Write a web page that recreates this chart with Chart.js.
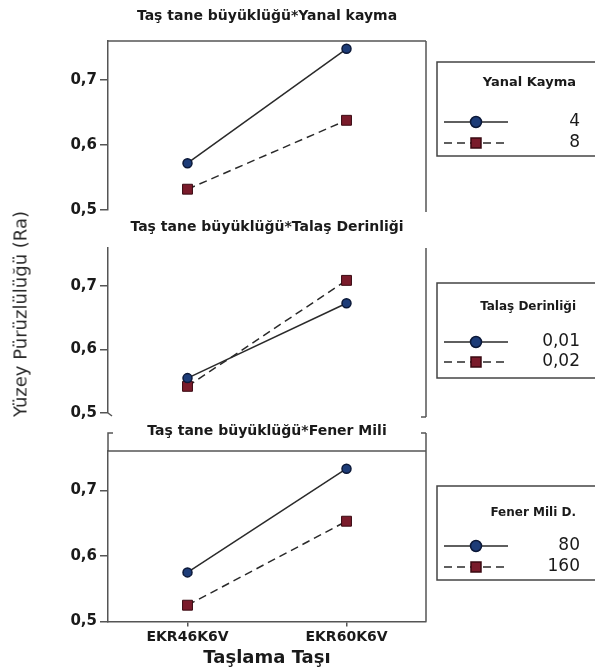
<!DOCTYPE html>
<html>
<head>
<meta charset="utf-8">
<script src="https://cdn.jsdelivr.net/npm/chart.js@4.4.0/dist/chart.umd.min.js"></script>
<style>
  body { margin: 0; background: #fff; }
  #wrap { position: relative; width: 595px; height: 671px; overflow: hidden; }
  .box { position: absolute; left: 0; width: 595px; }
  #ytitle {
    position: absolute; left: 20px; top: 314px;
    transform: translate(-50%, -50%) rotate(-90deg);
    white-space: nowrap; font: 18px "DejaVu Sans"; color: #2a2a2a;
  }
</style>
</head>
<body>
<div id="wrap">
  <div class="box" style="top:0px;height:222px"><canvas id="c1"></canvas></div>
  <div class="box" style="top:207px;height:218px"><canvas id="c2"></canvas></div>
  <div class="box" style="top:410px;height:261px"><canvas id="c3"></canvas></div>
  <div id="ytitle">Yüzey Pürüzlülüğü (Ra)</div>
</div>
<script>
// categories on the x axis
const categories = ['EKR46K6V', 'EKR60K6V'];

// Yanal kayma
const kaymaNames = ['4', '8'];
const kayma4 = [0.572, 0.748];
const kayma8 = [0.532, 0.638];

// Talaş derinliği
const derinlikNames = ['0,01', '0,02'];
const derinlik001 = [0.555, 0.673];
const derinlik002 = [0.542, 0.709];

// Fener mili
const fenerNames = ['80', '160'];
const fener80 = [0.575, 0.733];
const fener160 = [0.525, 0.653];

const yTicks = [0.5, 0.6, 0.7];

const axisColor = '#555';
const textColor = '#1a1a1a';
const lineColor = '#2a2a2a';

// frame lines around each panel (top / right / little hooks)
const framePlugin = {
  id: 'frame',
  afterDraw(chart, args, o) {
    const ctx = chart.ctx;
    const a = chart.chartArea;
    ctx.save();
    ctx.strokeStyle = axisColor;
    ctx.lineWidth = 1.5;
    ctx.beginPath();
    if (o.top) {
      ctx.moveTo(a.left, a.top);
      ctx.lineTo(a.right, a.top);
    }
    ctx.moveTo(a.right, a.top - o.stub);
    ctx.lineTo(a.right, a.bottom + o.tail);
    if (o.stub) {
      ctx.moveTo(a.left + 5, a.top - o.stub);
      ctx.lineTo(a.left, a.top - o.stub);
      ctx.lineTo(a.left, a.top);
      ctx.moveTo(a.right - 5, a.top - o.stub);
      ctx.lineTo(a.right, a.top - o.stub);
    }
    if (o.hook) {
      ctx.moveTo(a.left, a.bottom);
      ctx.lineTo(a.left + 4, a.bottom + 3);
      ctx.moveTo(a.right, a.bottom + o.tail);
      ctx.lineTo(a.right - 5, a.bottom + o.tail);
    }
    ctx.stroke();
    ctx.restore();
  }
};

// boxed legend on the right of each panel
const legendPlugin = {
  id: 'boxLegend',
  afterDraw(chart, args, o) {
    const ctx = chart.ctx;
    const x0 = chart.chartArea.right + 11;
    ctx.save();
    ctx.strokeStyle = '#444';
    ctx.lineWidth = 1.5;
    ctx.strokeRect(x0, o.top, 200, o.height);
    ctx.fillStyle = textColor;
    ctx.font = o.titleFont;
    ctx.textAlign = 'right';
    ctx.textBaseline = 'middle';
    ctx.fillText(o.title, x0 + 139, o.titleY);
    chart.data.datasets.forEach((ds, i) => {
      const y = o.itemY[i];
      ctx.strokeStyle = ds.borderColor;
      ctx.lineWidth = ds.borderWidth;
      ctx.setLineDash(ds.borderDash || []);
      ctx.beginPath();
      ctx.moveTo(x0 + 7, y);
      ctx.lineTo(x0 + 71, y);
      ctx.stroke();
      ctx.setLineDash([]);
      ctx.fillStyle = ds.pointBackgroundColor;
      ctx.strokeStyle = ds.pointBorderColor;
      ctx.lineWidth = 1.5;
      ctx.beginPath();
      if (ds.pointStyle === 'rect') {
        ctx.rect(x0 + 34, y - 5, 10, 10);
      } else {
        ctx.arc(x0 + 39, y, 5.5, 0, Math.PI * 2);
      }
      ctx.fill();
      ctx.stroke();
      ctx.fillStyle = textColor;
      ctx.font = '17px "DejaVu Sans"';
      ctx.fillText(ds.label, x0 + 143, y);
    });
    ctx.restore();
  }
};

function panel(id, title, names, first, second, cfg) {
  return new Chart(document.getElementById(id), {
    type: 'line',
    data: {
      labels: categories,
      datasets: [
        {
          label: names[0], data: first,
          borderColor: lineColor, borderWidth: 1.5,
          pointStyle: 'circle', pointRadius: 4.5,
          pointBackgroundColor: '#1d3c78', pointBorderColor: '#0b1838', pointBorderWidth: 1.5
        },
        {
          label: names[1], data: second,
          borderColor: lineColor, borderWidth: 1.5, borderDash: [8, 5],
          pointStyle: 'rect', pointRadius: 7,
          pointBackgroundColor: '#7a1b2b', pointBorderColor: '#3a0a12', pointBorderWidth: 1
        }
      ]
    },
    options: {
      responsive: true,
      maintainAspectRatio: false,
      animation: false,
      layout: { padding: { left: 0, right: 169, top: 0, bottom: cfg.bottom } },
      plugins: {
        legend: { display: false },
        tooltip: { enabled: false },
        title: {
          display: true, text: title, fullSize: false, color: textColor,
          font: { family: 'DejaVu Sans', size: 14, weight: 'bold' },
          padding: { top: cfg.titleTop, bottom: cfg.titleBottom }
        },
        frame: cfg.frame,
        boxLegend: cfg.legend
      },
      scales: {
        x: {
          display: cfg.showX,
          offset: true,
          grid: { offset: false, drawOnChartArea: false, tickLength: 5, color: axisColor, lineWidth: 1.5 },
          border: { color: axisColor, width: 1.5 },
          ticks: { color: textColor, padding: 2, font: { family: 'DejaVu Sans', size: 14, weight: 'bold' } },
          title: {
            display: true, text: 'Taşlama Taşı', color: textColor,
            font: { family: 'DejaVu Sans', size: 18, weight: '600' },
            padding: { top: 0, bottom: 2 }
          }
        },
        y: {
          min: 0.5, max: 0.76,
          afterFit: s => { s.width = 108; },
          afterBuildTicks: s => { s.ticks = yTicks.map(v => ({ value: v })); },
          grid: { drawOnChartArea: false, tickLength: 8, color: axisColor, lineWidth: 1.5 },
          border: { color: axisColor, width: 1.5 },
          ticks: {
            color: textColor, padding: 3,
            font: { family: 'DejaVu Sans', size: 15, weight: 'bold' },
            callback: v => v.toFixed(1).replace('.', ',')
          }
        }
      }
    },
    plugins: [framePlugin, legendPlugin]
  });
}

panel('c1', 'Taş tane büyüklüğü*Yanal kayma', kaymaNames, kayma4, kayma8, {
  bottom: 12, titleTop: 8, titleBottom: 16.2, showX: false,
  frame: { top: true, stub: 0, tail: 2, hook: false },
  legend: { title: 'Yanal Kayma', titleFont: 'bold 13px "DejaVu Sans"', top: 62, height: 94, titleY: 83, itemY: [122, 143] }
});

panel('c2', 'Taş tane büyüklüğü*Talaş Derinliği', derinlikNames, derinlik001, derinlik002, {
  bottom: 12, titleTop: 12, titleBottom: 12.2, showX: false,
  frame: { top: false, stub: 0, tail: 4, hook: true },
  legend: { title: 'Talaş Derinliği', titleFont: 'bold 12px "DejaVu Sans"', top: 76, height: 95, titleY: 100, itemY: [135, 155] }
});

panel('c3', 'Taş tane büyüklüğü*Fener Mili', fenerNames, fener80, fener160, {
  bottom: 0, titleTop: 13, titleBottom: 11.2, showX: true,
  frame: { top: true, stub: 18, tail: 0, hook: false },
  legend: { title: 'Fener Mili D.', titleFont: 'bold 12px "DejaVu Sans"', top: 76, height: 94, titleY: 103, itemY: [136, 157] }
});
</script>
</body>
</html>
